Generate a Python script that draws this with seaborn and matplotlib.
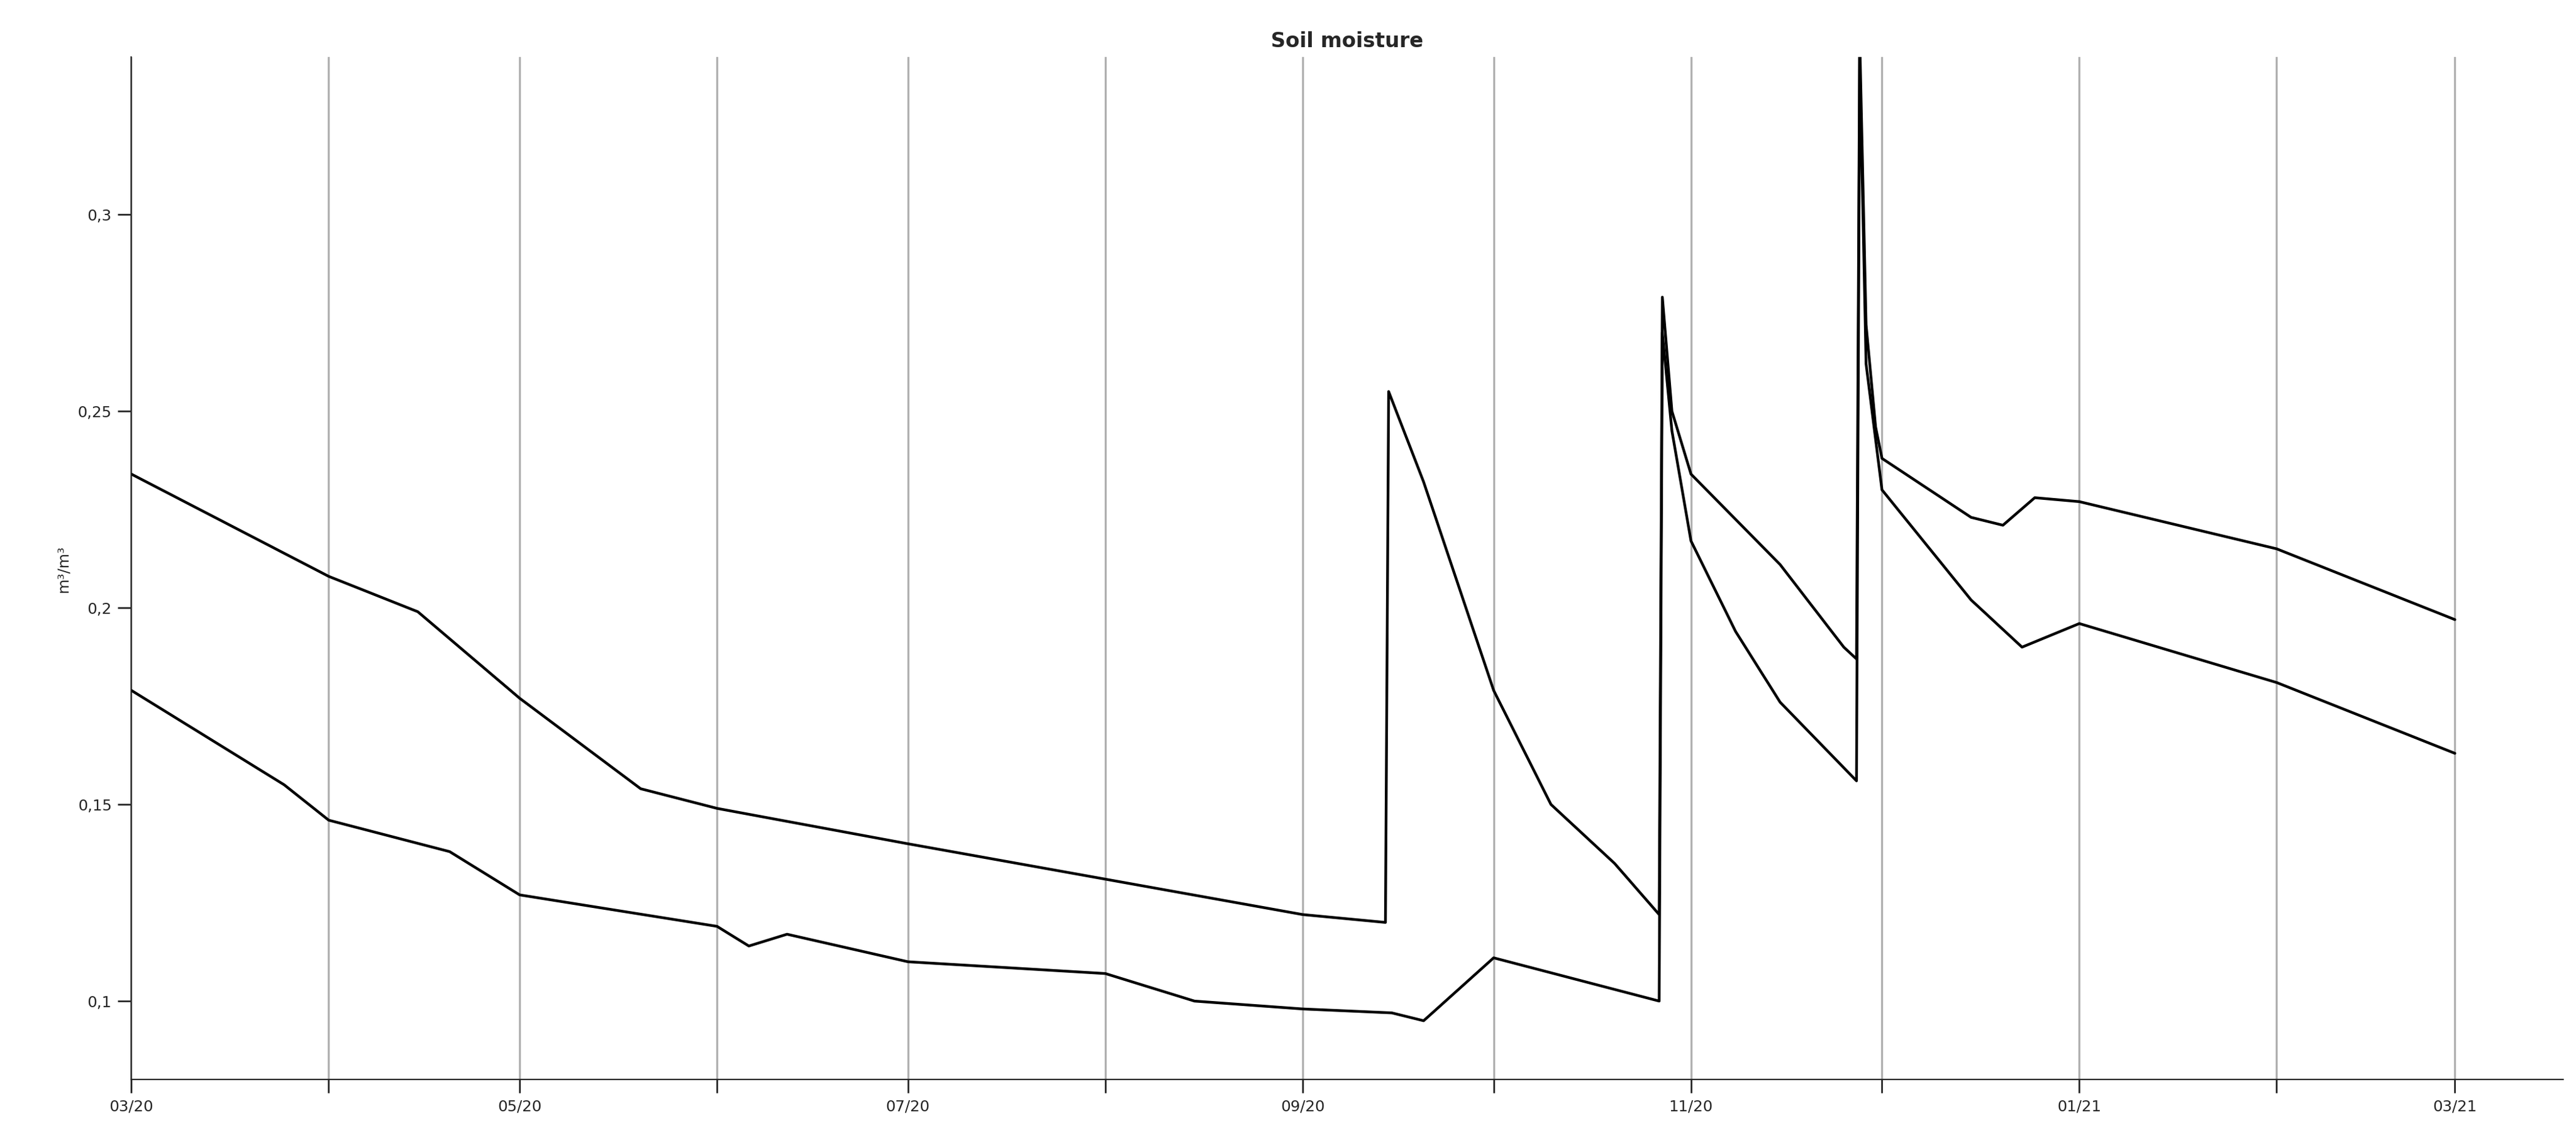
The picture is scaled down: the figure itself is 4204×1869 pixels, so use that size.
import pandas as pd
import matplotlib.pyplot as plt
import matplotlib.dates as mdates
import matplotlib.ticker as mticker
import seaborn as sns

# upper sensor
upper_dates = ["2020-03-01", "2020-04-01", "2020-04-15", "2020-05-01", "2020-05-20", "2020-06-01",
               "2020-07-01", "2020-08-01", "2020-09-01", "2020-09-14", "2020-09-14 12:00",
               "2020-09-20", "2020-10-01", "2020-10-10", "2020-10-20", "2020-10-27",
               "2020-10-27 12:00", "2020-10-29", "2020-11-01", "2020-11-15", "2020-11-25",
               "2020-11-27", "2020-11-27 12:00", "2020-11-28 12:00", "2020-11-30",
               "2020-12-01", "2020-12-15", "2020-12-20", "2020-12-25", "2021-01-01",
               "2021-02-01", "2021-03-01"]
upper_vals = [0.234, 0.208, 0.199, 0.177, 0.154, 0.149,
              0.140, 0.131, 0.122, 0.120, 0.255,
              0.232, 0.179, 0.150, 0.135, 0.122,
              0.279, 0.250, 0.234, 0.211, 0.190,
              0.187, 0.345, 0.272, 0.246,
              0.238, 0.223, 0.221, 0.228, 0.227,
              0.215, 0.197]

# lower sensor
lower_dates = ["2020-03-01", "2020-03-25", "2020-04-01", "2020-04-20", "2020-05-01", "2020-06-01",
               "2020-06-06", "2020-06-12", "2020-07-01", "2020-08-01", "2020-08-15",
               "2020-09-01", "2020-09-15", "2020-09-20", "2020-10-01", "2020-10-27",
               "2020-10-27 12:00", "2020-10-29", "2020-11-01", "2020-11-08", "2020-11-15",
               "2020-11-27", "2020-11-27 12:00", "2020-11-28 12:00", "2020-12-01",
               "2020-12-15", "2020-12-23", "2021-01-01", "2021-02-01", "2021-03-01"]
lower_vals = [0.179, 0.155, 0.146, 0.138, 0.127, 0.119,
              0.114, 0.117, 0.110, 0.107, 0.100,
              0.098, 0.097, 0.095, 0.111, 0.100,
              0.270, 0.245, 0.217, 0.194, 0.176,
              0.156, 0.340, 0.262, 0.230,
              0.202, 0.190, 0.196, 0.181, 0.163]

df = pd.concat([
    pd.DataFrame({"date": pd.to_datetime(upper_dates, format="mixed"), "value": upper_vals, "sensor": "upper"}),
    pd.DataFrame({"date": pd.to_datetime(lower_dates, format="mixed"), "value": lower_vals, "sensor": "lower"}),
])

sns.set_style("white")
plt.rcParams['font.family'] = ['DejaVu Sans']
fig, ax = plt.subplots(figsize=(21.02, 9.345), dpi=200)
fig.subplots_adjust(left=0.051, right=0.995, top=0.95, bottom=0.057)

sns.lineplot(data=df, x="date", y="value", units="sensor", estimator=None,
             color="black", linewidth=1.6, ax=ax, sort=False)

ax.set_xlim(pd.Timestamp("2020-03-01"), pd.Timestamp("2021-03-18"))
ax.set_ylim(0.08, 0.34)
ax.xaxis.set_major_locator(mdates.MonthLocator(bymonth=[1, 3, 5, 7, 9, 11]))
ax.xaxis.set_major_formatter(mdates.DateFormatter("%m/%y"))
ax.xaxis.set_minor_locator(mdates.MonthLocator())
ax.grid(True, which="both", axis="x", color="#b0b0b0", linewidth=1.2)
ax.yaxis.set_major_locator(mticker.MultipleLocator(0.05))
ax.yaxis.set_major_formatter(mticker.FuncFormatter(lambda v, p: f"{v:g}".replace(".", ",")))
ax.tick_params(axis="both", which="both", direction="out", length=8, width=1,
               labelsize=9, bottom=True, left=True)
for s in ["top", "right"]:
    ax.spines[s].set_visible(False)
ax.set_xlabel("")
ax.set_ylabel("m³/m³", fontsize=9)
ax.set_title("Soil moisture", fontsize=12, fontweight="bold")

fig.savefig("out.png")
